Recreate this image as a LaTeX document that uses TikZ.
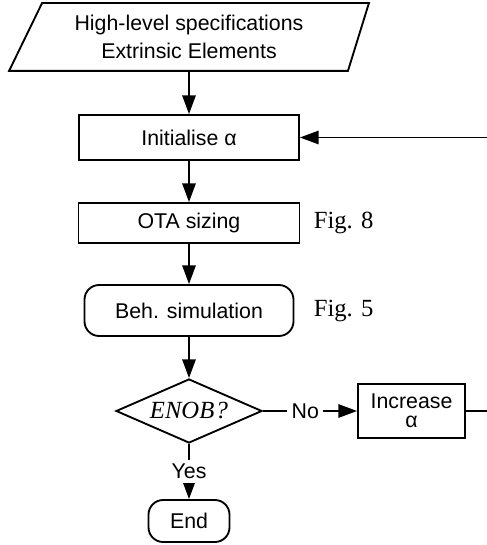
\documentclass[tikz,border=0pt]{standalone}
\usepackage{fontspec}
\setmainfont{Liberation Sans}
\newfontfamily\figfont{Liberation Serif}
\usetikzlibrary{shapes,arrows,positioning,calc,arrows.meta}

\begin{document}
\begin{tikzpicture}[x=0.75pt, y=-0.75pt, line width=1.4pt,
    >={Triangle[length=14pt,width=10pt]},
    every node/.style={font=\fontsize{16}{19}\selectfont},
    block/.style={draw, rectangle, inner sep=0pt},
    rblock/.style={draw, rectangle, rounded corners=11pt, inner sep=0pt},
    decision/.style={draw, diamond, aspect=2.28, minimum width=109.5pt, minimum height=48pt, inner sep=0pt},
    note/.style={font=\figfont\fontsize{18.5}{22}\selectfont}]
    \useasboundingbox (0,0) rectangle (486,545);

    % input specifications
    \node[minimum width=228pt, minimum height=49.5pt, align=center] (spec) at (189,37) {High-level specifications\\[2pt]Extrinsic Elements};
    \draw ($(spec.south west)+(-27,0)$) -- ($(spec.north west)+(6,0)$) -- ($(spec.north east)+(27,0)$) -- ($(spec.south east)+(6,0)$) -- cycle;

    % main flow
    \node[block, minimum width=165pt, minimum height=33.75pt] (init) at (189,137.5) {Initialise α};
    \node[block, minimum width=165.75pt, minimum height=30pt] (ota) at (189,223) {OTA sizing};
    \node[rblock, minimum width=156.75pt, minimum height=38.25pt] (sim) at (189,310.5) {Beh. simulation};
    \node[decision] (dec) at (189,411) {\figfont\fontsize{18.5}{20}\selectfont\itshape ENOB\kern1pt?};
    \node[block, minimum width=80.25pt, minimum height=40.5pt, align=center, font=\fontsize{16}{14.5}\selectfont] (inc) at (411.5,411) {Increase\\α};
    \node[rblock, minimum width=60.75pt, minimum height=31.5pt] (stop) at (189,521) {End};

    % references
    \node[note, right=6pt of ota] (fig8) {Fig. 8};
    \node[note, anchor=west] (fig5) at (fig8.west |- sim) {Fig. 5};

    \draw[->] (spec) -- (init);
    \draw[->] (init) -- (ota);
    \draw[->] (ota) -- (sim);
    \draw[->] (sim) -- (dec);
    \draw[->] (dec) -- node[fill=white]{Yes} (stop);
    \draw[->] (dec) -- node[fill=white, pos=0.45]{No} (inc);
    \coordinate (back) at (492,0);
    \draw[->] (inc.east) -- (inc.east -| back) |- (init.east);
\end{tikzpicture}
\end{document}
